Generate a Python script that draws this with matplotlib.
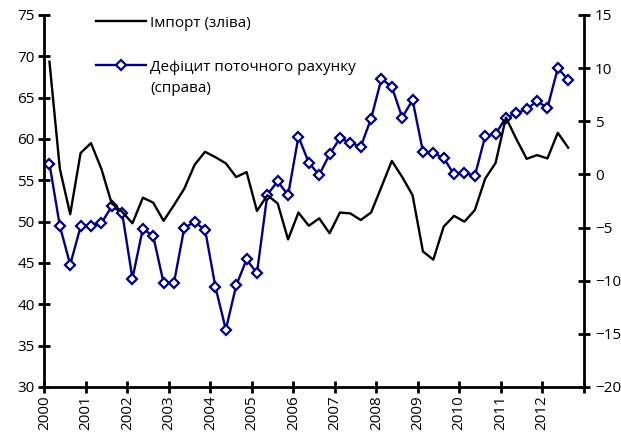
import matplotlib
matplotlib.use("Agg")
import matplotlib.pyplot as plt
from matplotlib.lines import Line2D

plt.rcParams['font.family'] = ['Open Sans', 'DejaVu Sans']

years = [str(y) for y in range(2000, 2013)]

imports = [69.35, 56.4, 50.9, 58.3, 59.5, 56.4, 52.2, 51.2, 49.8,
           52.9, 52.3, 50.1, 52.0, 54.0, 56.9, 58.45, 57.8, 57.05, 55.4, 56.0,
           51.3, 53.2, 52.2, 47.85, 51.1, 49.5, 50.4, 48.6, 51.1, 51.0,
           50.2, 51.1, 54.2, 57.35, 55.4, 53.2, 46.4, 45.4, 49.4, 50.7,
           50.0, 51.4, 55.2, 57.1, 62.6, 60.0, 57.6, 58.05, 57.65, 60.75, 58.95]

deficit = [1.0, -4.85, -8.5, -4.9, -4.85, -4.6, -3.0, -3.6, -9.8,
           -5.1, -5.8, -10.2, -10.2, -5.0, -4.5, -5.2, -10.6, -14.6, -10.45, -8.0,
           -9.3, -1.9, -0.65, -1.95, 3.55, 1.1, -0.05, 1.9, 3.4, 3.0,
           2.6, 5.25, 9.0, 8.25, 5.35, 7.0, 2.15, 2.0, 1.55, 0.0,
           0.15, -0.15, 3.6, 3.8, 5.35, 5.75, 6.15, 6.9, 6.25, 10.0, 8.9]

label_imp = 'Імпорт (зліва)'
label_def = 'Дефіцит поточного рахунку'
label_def2 = '(справа)'

navy = '#000080'

fig = plt.figure(figsize=(6.21, 4.32), dpi=100)
ax = fig.add_axes([0.0713, 0.1042, 0.8687, 0.8611])
ax2 = ax.twinx()

x = [i + 0.5 for i in range(len(imports))]
ax.plot(x, imports, color='black', lw=1.7, zorder=3)
ax2.plot(x, deficit, color=navy, lw=1.7, marker='D', markersize=5,
         markerfacecolor='white', markeredgecolor=navy, markeredgewidth=1.6, zorder=4)

ax.set_xlim(0, 52)
ax.set_ylim(30, 75)
ax2.set_ylim(-20, 15)
ax.set_yticks(range(30, 76, 5))
ax2.set_yticks(range(-20, 16, 5))
ax.set_xticks(list(range(0, 53, 4)))
ax.set_xticklabels(years + [''], rotation=90)

for a in (ax, ax2):
    a.spines['top'].set_visible(False)
    for s in a.spines.values():
        s.set_linewidth(2)
ax.spines['right'].set_visible(False)
ax2.spines['left'].set_visible(False)
ax2.spines['bottom'].set_visible(False)

ax.tick_params(axis='both', direction='inout', length=8, width=2, labelsize=11, colors='black')
ax.tick_params(axis='y', pad=3)
ax.tick_params(axis='x', pad=2)
ax2.tick_params(axis='y', direction='inout', length=8, width=2, labelsize=11, pad=4)

ax.set_zorder(ax2.get_zorder() + 1)
ax.patch.set_visible(False)

h1 = Line2D([], [], color='black', lw=1.7)
h2 = Line2D([], [], color=navy, lw=1.7, marker='D', markersize=5,
            markerfacecolor='white', markeredgecolor=navy, markeredgewidth=1.6)
leg = ax.legend([h1, h2], [label_imp, label_def], loc='upper left',
                bbox_to_anchor=(0.07, 1.035), frameon=False, fontsize=11,
                handlelength=3.3, handletextpad=0.25, labelspacing=1.9)

fig.canvas.draw()
t = leg.get_texts()[1]
bb = t.get_window_extent()
fig.text(bb.x0 / fig.bbox.width, (bb.y0 - 21 + bb.height / 2) / fig.bbox.height,
         label_def2, fontsize=11, ha='left', va='center')

fig.savefig('out.png', dpi=100)
